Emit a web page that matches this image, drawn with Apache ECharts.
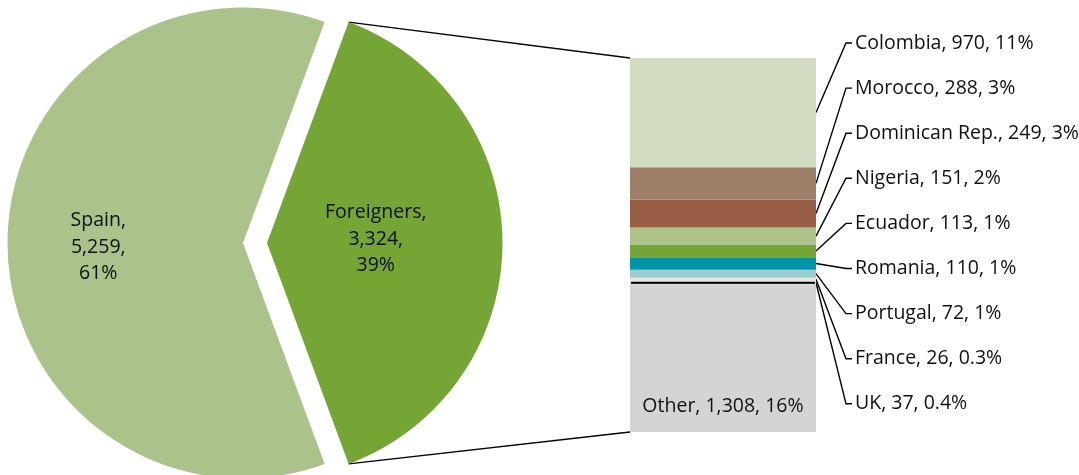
<!DOCTYPE html>
<html>
<head>
<meta charset="utf-8">
<script src="https://cdn.jsdelivr.net/npm/echarts@6/dist/echarts.min.js"></script>
<style>
  html, body { margin: 0; padding: 0; background: #ffffff; }
  #chart { width: 1079px; height: 475px; }
</style>
</head>
<body>
<div id="chart"></div>
<script>
// Residents split by nationality (pie) and foreigners broken down by country (stacked bar)
const pieNames = ['Foreigners', 'Spain'];
const pieValues = [3324, 5259];
const piePercents = ['39%', '61%'];
const pieColors = ['#74a535', '#abc28a'];

const countries = ['Colombia', 'Morocco', 'Dominican Rep.', 'Nigeria', 'Ecuador', 'Romania', 'Portugal', 'France', 'UK', 'Other'];
const countryValues = [970, 288, 249, 151, 113, 110, 72, 26, 37, 1308];
const countryPercents = ['11%', '3%', '3%', '2%', '1%', '1%', '1%', '0.3%', '0.4%', '16%'];
const countryColors = ['#d2dcc3', '#9d7e68', '#985d45', '#abc28a', '#74a535', '#0094a7', '#9ccdcf', '#e6e6e6', '#000000', '#d3d4d6'];

const FONT = 'Open Sans';
const FONT_SIZE = 19.5;
const TEXT_COLOR = '#111111';

// layout
const PIE_CENTER = [243, 243];
const PIE_RADIUS = 235.5;
const PIE_OFFSET = 24;
const GRID_LEFT = 630, GRID_TOP = 58, GRID_W = 186, GRID_H = 374;
const LABEL_X = 855, LABEL_TOP = 43, LABEL_STEP = 45.1, KINK_X = 846;

const fmt = v => v.toLocaleString('en-US');
const pieTotal = pieValues.reduce((a, b) => a + b, 0);
const barTotal = countryValues.reduce((a, b) => a + b, 0);
// the exploded slice is centred on the horizontal, pointing at the bar
const foreignAngle = pieValues[0] / pieTotal * 360;
const startAngle = foreignAngle / 2;

const chart = echarts.init(document.getElementById('chart'), null, { renderer: 'canvas' });

const barSeries = [];
for (let i = countries.length - 1; i >= 0; i--) {
  const isOther = countries[i] === 'Other';
  const s = {
    type: 'bar',
    name: countries[i],
    stack: 'total',
    barWidth: '100%',
    data: [countryValues[i]],
    itemStyle: { color: countryColors[i] },
    silent: true,
    label: {
      show: true,
      position: isOther ? 'insideBottom' : 'right',
      distance: isOther ? 16 : 5,
      formatter: () => `${countries[i]}, ${fmt(countryValues[i])}, ${countryPercents[i]}`,
      color: TEXT_COLOR,
      fontFamily: FONT,
      fontSize: FONT_SIZE
    }
  };
  if (!isOther) {
    s.labelLayout = { x: LABEL_X, y: LABEL_TOP + i * LABEL_STEP, align: 'left', verticalAlign: 'middle' };
  }
  if (countries[i] === 'UK') {
    // thin dark band framed by the light neighbours
    s.itemStyle.borderColor = '#e6e6e6';
    s.itemStyle.borderWidth = 1;
  }
  barSeries.push(s);
}

chart.setOption({
  animation: false,
  backgroundColor: '#ffffff',
  grid: { left: GRID_LEFT, top: GRID_TOP, width: GRID_W, height: GRID_H },
  xAxis: { type: 'category', data: ['Foreigners'], show: false },
  yAxis: { type: 'value', min: 0, max: barTotal, show: false },
  series: [
    {
      type: 'pie',
      center: PIE_CENTER,
      radius: PIE_RADIUS,
      startAngle: startAngle,
      clockwise: true,
      selectedMode: 'single',
      selectedOffset: PIE_OFFSET,
      silent: true,
      emphasis: { disabled: true },
      data: pieNames.map((n, i) => ({
        name: n,
        value: pieValues[i],
        selected: n === 'Foreigners',
        itemStyle: { color: pieColors[i] }
      })),
      label: {
        show: true,
        position: 'inner',
        formatter: p => `${p.name},\n${fmt(p.value)},\n${piePercents[p.dataIndex]}`,
        color: TEXT_COLOR,
        fontFamily: FONT,
        fontSize: FONT_SIZE,
        lineHeight: 26.5,
        align: 'center'
      },
      labelLine: { show: false },
      labelLayout: p => ({ dx: -12, dy: p.dataIndex === 0 ? -4 : 2 })
    },
    ...barSeries
  ]
});

// connectors and leader lines, placed from the axes
const yPix = v => chart.convertToPixel({ yAxisIndex: 0 }, v);
const barRight = GRID_LEFT + GRID_W;
const graphics = [];
const lineStyle = { stroke: '#000000', lineWidth: 1.4, fill: null };

// pie corners of the exploded slice to the bar's top and bottom corners
const rad = startAngle * Math.PI / 180;
const cx = PIE_CENTER[0] + PIE_OFFSET, cy = PIE_CENTER[1];
const topCorner = [cx + PIE_RADIUS * Math.cos(rad), cy - PIE_RADIUS * Math.sin(rad)];
const botCorner = [cx + PIE_RADIUS * Math.cos(rad), cy + PIE_RADIUS * Math.sin(rad)];
graphics.push({ type: 'line', shape: { x1: topCorner[0], y1: topCorner[1], x2: GRID_LEFT, y2: yPix(barTotal) }, style: lineStyle, silent: true });
graphics.push({ type: 'line', shape: { x1: botCorner[0], y1: botCorner[1], x2: GRID_LEFT, y2: yPix(0) }, style: lineStyle, silent: true });

let acc = 0;
countries.forEach((c, i) => {
  const mid = barTotal - (acc + countryValues[i] / 2);
  acc += countryValues[i];
  if (c === 'Other') return;
  const ly = LABEL_TOP + i * LABEL_STEP;
  graphics.push({
    type: 'polyline',
    shape: { points: [[barRight, yPix(mid)], [KINK_X, ly], [KINK_X + 6, ly]] },
    style: lineStyle,
    silent: true
  });
});

chart.setOption({ graphic: graphics });
</script>
</body>
</html>
